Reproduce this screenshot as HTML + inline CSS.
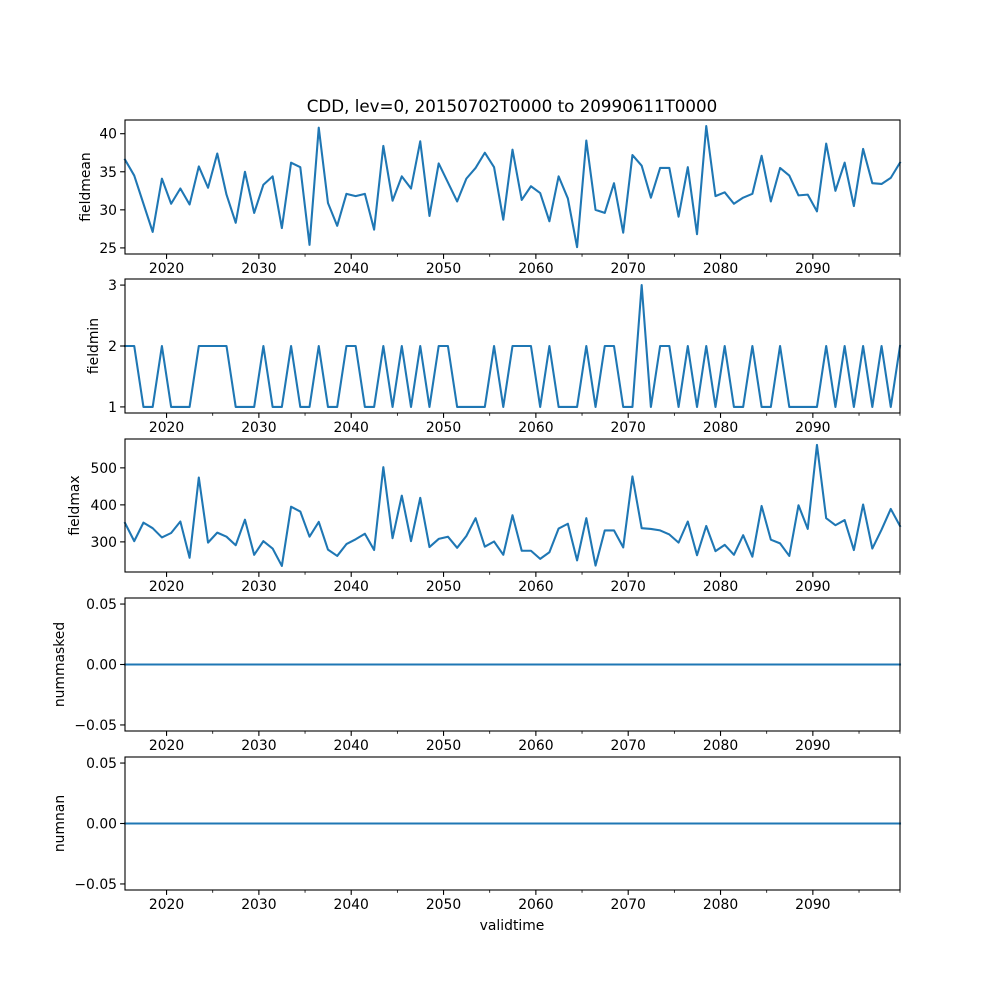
<!DOCTYPE html>
<html><head><meta charset="utf-8"><style>
body{margin:0;background:#fff}
svg text{font-family:"DejaVu Sans","Liberation Sans",sans-serif;fill:#000}
</style></head><body>
<svg id="fig" width="1000" height="1000" viewBox="0 0 1000 1000">
<text x="512" y="112" font-size="16.7" text-anchor="middle">CDD, lev=0, 20150702T0000 to 20990611T0000</text>
<text x="512" y="930" font-size="13.9" text-anchor="middle">validtime</text>
</svg>
<script>
const years = Array.from({length:85},(_,i)=>2015+i);
const fieldmean = [36.6,34.5,30.8,27.1,34.1,30.8,32.8,30.7,35.7,32.9,37.4,32.0,28.3,35.0,29.6,33.3,34.4,27.6,36.2,35.6,25.4,40.8,30.9,27.9,32.1,31.8,32.1,27.4,38.4,31.2,34.4,32.8,39.0,29.2,36.1,33.6,31.1,34.1,35.5,37.5,35.6,28.7,37.9,31.3,33.1,32.2,28.5,34.4,31.5,25.1,39.1,30.0,29.6,33.5,27.0,37.2,35.8,31.6,35.5,35.5,29.1,35.6,26.8,41.0,31.8,32.3,30.8,31.6,32.1,37.1,31.1,35.5,34.5,31.9,32.0,29.8,38.7,32.5,36.2,30.5,38.0,33.5,33.4,34.2,36.2];
const fieldmin = [2,2,1,1,2,1,1,1,2,2,2,2,1,1,1,2,1,1,2,1,1,2,1,1,2,2,1,1,2,1,2,1,2,1,2,2,1,1,1,1,2,1,2,2,2,1,2,1,1,1,2,1,2,2,1,1,3,1,2,2,1,2,1,2,1,2,1,1,2,1,1,2,1,1,1,1,2,1,2,1,2,1,2,1,2];
const fieldmax = [351,302,352,337,312,324,355,257,474,298,325,314,291,360,265,302,282,235,395,382,314,354,279,262,294,307,322,278,502,310,425,302,419,286,308,314,284,316,364,287,301,265,372,276,276,254,272,336,349,250,364,236,331,331,285,477,337,335,331,320,298,355,264,343,275,292,265,318,260,397,306,296,262,399,335,562,364,345,359,278,401,282,333,389,343];
const nummasked = years.map(()=>0);
const numnan = years.map(()=>0);
const xMajor = [2020,2030,2040,2050,2060,2070,2080,2090];
const xMinor = [2025,2035,2045,2055,2065,2075,2085,2095];

const NS='http://www.w3.org/2000/svg';
const svg=document.getElementById('fig');
const L=125,R=900;
function xPt(i){return L+i*(R-L)/(years.length-1);}
function xYear(y){return L+(y-2015.5)*9.233;}
function mk(tag,attrs,parent){const e=document.createElementNS(NS,tag);for(const k in attrs)e.setAttribute(k,attrs[k]);(parent||svg).appendChild(e);return e;}

const panels=[
 {name:'fieldmean',data:fieldmean,top:120,bot:254,dom:[24.2,41.8],ticks:[25,30,35,40],fmt:v=>String(v),lx:90},
 {name:'fieldmin',data:fieldmin,top:279,bot:413,dom:[0.9,3.1],ticks:[1,2,3],fmt:v=>String(v),lx:98},
 {name:'fieldmax',data:fieldmax,top:439,bot:572,dom:[218.6,578],ticks:[300,400,500],fmt:v=>String(v),lx:79},
 {name:'nummasked',data:nummasked,top:598,bot:731,dom:[-0.055,0.055],ticks:[-0.05,0,0.05],fmt:v=>(v<0?'\u2212':'')+Math.abs(v).toFixed(2),lx:64},
 {name:'numnan',data:numnan,top:757,bot:890,dom:[-0.055,0.055],ticks:[-0.05,0,0.05],fmt:v=>(v<0?'\u2212':'')+Math.abs(v).toFixed(2),lx:64}
];
panels.forEach(p=>{
  const g=mk('g',{});
  
  
  const yS=v=>p.bot-(v-p.dom[0])/(p.dom[1]-p.dom[0])*(p.bot-p.top);
  // line
  const d=p.data.map((v,i)=>(i?'L':'M')+xPt(i).toFixed(2)+' '+yS(v).toFixed(2)).join(' ');
  const path=mk('path',{d:d,fill:'none',stroke:'#1f77b4','stroke-width':2.08,'stroke-linejoin':'round','stroke-linecap':'square'},g);
  
  
  // frame
  const fr=mk('rect',{x:L,y:p.top,width:R-L,height:p.bot-p.top,fill:'none',stroke:'#000','stroke-width':1.1},g);
  
  
  // y ticks
  p.ticks.forEach(t=>{
    const y=yS(t);
    mk('line',{x1:L-4.9,x2:L,y1:y,y2:y,stroke:'#000','stroke-width':1.1},g);
    const tx=mk('text',{x:L-8,y:y+5,'font-size':13.9,'text-anchor':'end'},g);
    tx.textContent=p.fmt(t);
    
    
  });
  // x ticks
  xMajor.forEach(t=>{
    const x=xYear(t);
    mk('line',{x1:x,x2:x,y1:p.bot,y2:p.bot+4.9,stroke:'#000','stroke-width':1.1},g);
    const tx=mk('text',{x:x,y:p.bot+19,'font-size':13.9,'text-anchor':'middle'},g);
    tx.textContent=String(t);
    
    
  });
  xMinor.forEach(t=>{
    const x=xYear(t);
    mk('line',{x1:x,x2:x,y1:p.bot,y2:p.bot+2.8,stroke:'#000','stroke-width':0.8},g);
  });
  mk('line',{x1:R,x2:R,y1:p.bot,y2:p.bot+2.8,stroke:'#000','stroke-width':0.8},g);
  const cy=(p.top+p.bot)/2;
  const yl=mk('text',{x:p.lx,y:cy,'font-size':13.9,'text-anchor':'middle',transform:'rotate(-90 '+p.lx+' '+cy+')'},g);
  yl.textContent=p.name;
  
  
});
</script>
</body></html>
